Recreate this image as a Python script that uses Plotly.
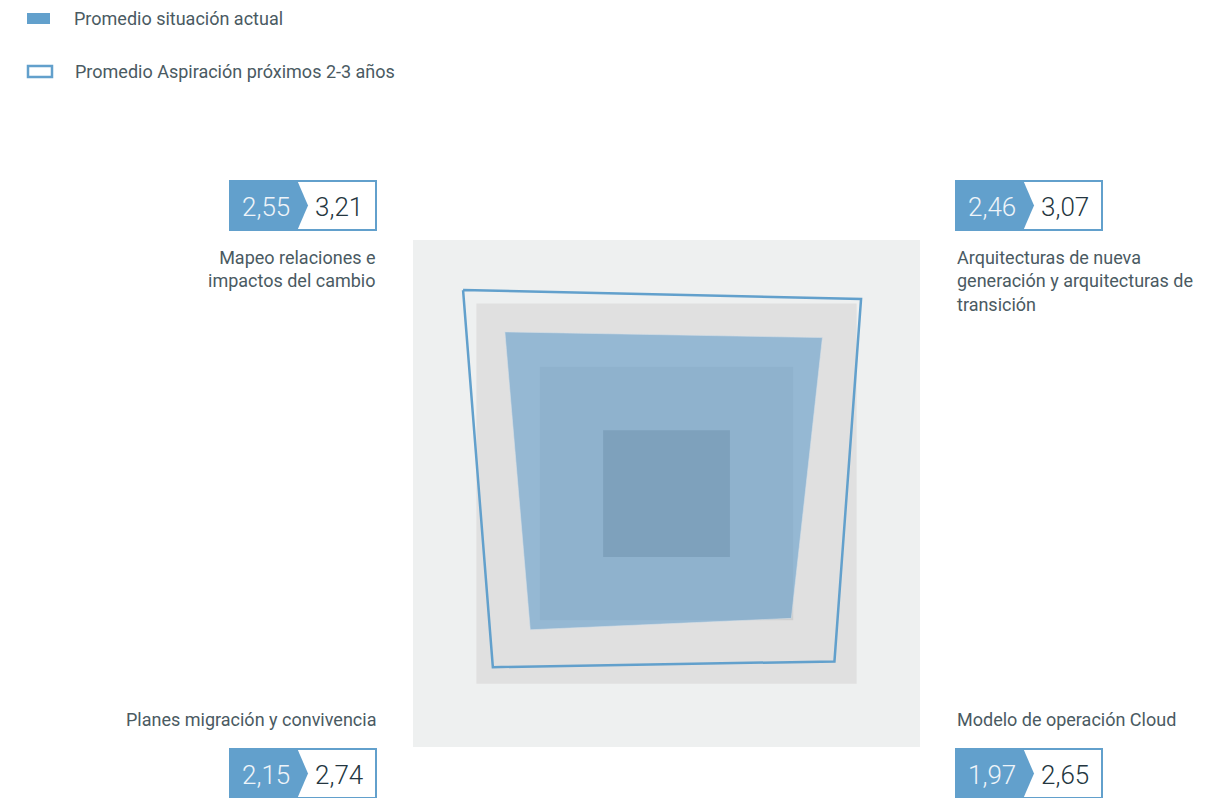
import plotly.graph_objects as go

# ---- data ----
categories = [
    "Mapeo relaciones e<br>impactos del cambio",
    "Arquitecturas de nueva<br>generación y arquitecturas de<br>transición",
    "Modelo de operación Cloud",
    "Planes migración y convivencia",
]
actual = [2.55, 2.46, 1.97, 2.15]
aspiration = [3.21, 3.07, 2.65, 2.74]
series_names = ["Promedio situación actual", "Promedio Aspiración próximos 2-3 años"]
grid_levels = [4, 3, 2, 1]
grid_colors = ["#eef0f0", "#e0e0e0", "#cfcfcf", "#a2a2a2"]

# corner directions: top-left, top-right, bottom-right, bottom-left
dirs = [(-1, 1), (1, 1), (1, -1), (-1, -1)]

def fmt(v):
    return f"{v:.2f}".replace(".", ",")

W, H = 1230, 798
OFF = 8  # page body margin
BLUE = "#62a0cc"
TEXT = "#4a5a62"
FONT = "Roboto"

def px(x):
    return (x - OFF) / W

def py(y):
    return 1 - (y - OFF) / H

fig = go.Figure()

# grid bands
for lvl, col in zip(grid_levels, grid_colors):
    xs = [dx * lvl for dx, dy in dirs] + [dirs[0][0] * lvl]
    ys = [dy * lvl for dx, dy in dirs] + [dirs[0][1] * lvl]
    fig.add_trace(go.Scatter(x=xs, y=ys, mode="lines", fill="toself",
                             fillcolor=col, line=dict(width=0, color=col),
                             hoverinfo="skip", showlegend=False))

# actual (filled)
xa = [d[0] * v for d, v in zip(dirs, actual)]
ya = [d[1] * v for d, v in zip(dirs, actual)]
fig.add_trace(go.Scatter(x=xa + [xa[0]], y=ya + [ya[0]], mode="lines", fill="toself",
                         fillcolor="rgba(103,160,203,0.62)",
                         line=dict(width=0.8, color="rgba(215,225,232,0.7)"),
                         name=series_names[0], showlegend=False))

# aspiration (outline)
xs2 = [d[0] * v for d, v in zip(dirs, aspiration)]
ys2 = [d[1] * v for d, v in zip(dirs, aspiration)]
fig.add_trace(go.Scatter(x=xs2 + [xs2[0]], y=ys2 + [ys2[0]], mode="lines",
                         line=dict(width=2.5, color=BLUE),
                         name=series_names[1], showlegend=False))

shapes = []
annotations = []

# legend (manual)
shapes.append(dict(type="rect", xref="paper", yref="paper",
                   x0=px(27), x1=px(50), y0=py(13), y1=py(24),
                   fillcolor=BLUE, line=dict(width=0)))
shapes.append(dict(type="rect", xref="paper", yref="paper",
                   x0=px(28), x1=px(52), y0=py(66), y1=py(77),
                   fillcolor="white", line=dict(width=2.5, color=BLUE)))
annotations.append(dict(xref="paper", yref="paper", x=px(72), y=py(18.5),
                        text=series_names[0], showarrow=False, xanchor="left",
                        yanchor="middle", font=dict(family=FONT, size=18, color=TEXT)))
annotations.append(dict(xref="paper", yref="paper", x=px(73), y=py(71.5),
                        text=series_names[1], showarrow=False, xanchor="left",
                        yanchor="middle", font=dict(family=FONT, size=18, color=TEXT)))

# value boxes and labels
box_pos = [(229, 180), (955, 180), (955, 748), (229, 748)]
BW, BH, BLW, TIP = 148, 51, 68, 11
for i, (cat, a, s) in enumerate(zip(categories, actual, aspiration)):
    x0, y0 = box_pos[i]
    shapes.append(dict(type="rect", xref="paper", yref="paper",
                       x0=px(x0 + 1), x1=px(x0 + BW - 1), y0=py(y0 + 1), y1=py(y0 + BH - 1),
                       fillcolor="white", line=dict(width=2, color=BLUE)))
    path = (f"M {px(x0)},{py(y0)} L {px(x0 + BLW)},{py(y0)} "
            f"L {px(x0 + BLW + TIP)},{py(y0 + BH / 2)} L {px(x0 + BLW)},{py(y0 + BH)} "
            f"L {px(x0)},{py(y0 + BH)} Z")
    shapes.append(dict(type="path", xref="paper", yref="paper", path=path,
                       fillcolor=BLUE, line=dict(width=0)))
    annotations.append(dict(xref="paper", yref="paper", x=px(x0 + 37), y=py(y0 + BH / 2 + 1),
                            text=fmt(a), showarrow=False, xanchor="center", yanchor="middle",
                            font=dict(family=FONT, size=26, color="#eef4f9", weight=300)))
    annotations.append(dict(xref="paper", yref="paper", x=px(x0 + 110), y=py(y0 + BH / 2 + 1),
                            text=fmt(s), showarrow=False, xanchor="center", yanchor="middle",
                            font=dict(family=FONT, size=26, color="#243640", weight=300)))
    left = x0 > 600
    if i < 2:
        ly, yanc = 245, "top"
    else:
        ly, yanc = 719, "middle"
    annotations.append(dict(xref="paper", yref="paper",
                            x=px(955 if left else 378), y=py(ly),
                            text=cat, showarrow=False,
                            xanchor="left" if left else "right",
                            align="left" if left else "right",
                            yanchor=yanc,
                            font=dict(family=FONT, size=18, color=TEXT)))

fig.update_layout(
    width=W, height=H,
    margin=dict(l=0, r=0, t=0, b=0),
    paper_bgcolor="white", plot_bgcolor="white",
    xaxis=dict(domain=[px(413), px(920)], range=[-4, 4], visible=False, fixedrange=True),
    yaxis=dict(domain=[py(747), py(240)], range=[-4, 4], visible=False, fixedrange=True),
    shapes=shapes, annotations=annotations, showlegend=False,
)

fig.write_html("out.html")
